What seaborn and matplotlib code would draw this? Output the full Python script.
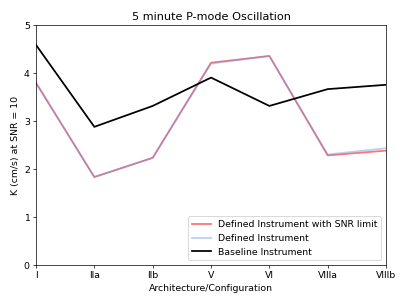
import matplotlib
matplotlib.use("Agg")
import matplotlib.pyplot as plt
import seaborn as sns
import pandas as pd

configs = ["I", "IIa", "IIb", "V", "VI", "VIIIa", "VIIIb"]
snr_limit = [3.79, 1.83, 2.23, 4.21, 4.35, 2.28, 2.38]
defined = [3.79, 1.83, 2.23, 4.19, 4.35, 2.30, 2.43]
baseline = [4.58, 2.875, 3.31, 3.90, 3.31, 3.66, 3.75]

plt.rcParams['font.family'] = ['DejaVu Sans']
plt.rcParams['font.size'] = 10.6

fig = plt.figure(figsize=(6.4, 4.8), dpi=63.6)
ax = fig.add_axes([36/407, 1-265/305, (386-36)/407, (265-25)/305])

x = list(range(len(configs)))
df = pd.DataFrame({"x": x, "snr": snr_limit, "def": defined, "base": baseline})
sns.lineplot(data=df, x="x", y="snr", ax=ax, color="red", alpha=0.55, lw=2,
             label="Defined Instrument with SNR limit")
sns.lineplot(data=df, x="x", y="def", ax=ax, color="cornflowerblue", alpha=0.45, lw=2,
             label="Defined Instrument")
sns.lineplot(data=df, x="x", y="base", ax=ax, color="black", lw=2,
             label="Baseline Instrument")

ax.set_xlim(0, 6)
ax.set_ylim(0, 5)
ax.set_xticks(x)
ax.set_xticklabels(configs)
ax.set_yticks([0, 1, 2, 3, 4, 5])
ax.set_xlabel("Architecture/Configuration")
ax.set_ylabel("K (cm/s) at SNR = 10")
ax.set_title("5 minute P-mode Oscillation")
ax.legend(loc="lower right")

fig.savefig("out.png", dpi=63.6)
